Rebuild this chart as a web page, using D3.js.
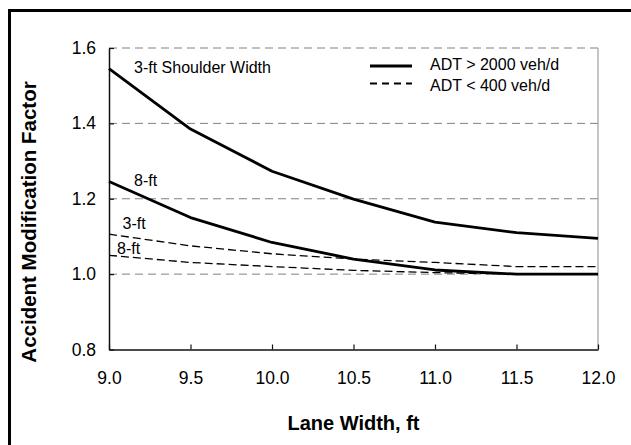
<!DOCTYPE html>
<html>
<head>
<meta charset="utf-8">
<script src="https://cdn.jsdelivr.net/npm/d3@7"></script>
<style>
  body { margin: 0; background: #fff; }
  svg text { font-family: "Liberation Sans", Arial, sans-serif; fill: #000; }
</style>
</head>
<body>
<svg></svg>
<script>
const width = 631;
const height = 445;

// lane widths (ft)
const laneWidths = [9.0, 9.5, 10.0, 10.5, 11.0, 11.5, 12.0];
// AMF, ADT > 2000 veh/d
const high3ft = [1.545, 1.385, 1.273, 1.199, 1.138, 1.110, 1.095];
const high8ft = [1.246, 1.150, 1.084, 1.040, 1.011, 1.000, 1.000];
// AMF, ADT < 400 veh/d
const low3ft = [1.106, 1.075, 1.054, 1.040, 1.031, 1.020, 1.020];
const low8ft = [1.050, 1.031, 1.020, 1.010, 1.004, 1.000, 1.000];

const xTicks = [9.0, 9.5, 10.0, 10.5, 11.0, 11.5, 12.0];
const yTicks = [0.8, 1.0, 1.2, 1.4, 1.6];
const gridValues = [1.0, 1.2, 1.4, 1.6];

const series = [
    {name: 'high3', values: high3ft, dashed: false},
    {name: 'high8', values: high8ft, dashed: false},
    {name: 'low3', values: low3ft, dashed: true},
    {name: 'low8', values: low8ft, dashed: true}
];

const margin = {top: 48, right: 33, bottom: 95.5, left: 109};

const svg = d3.select('svg')
    .attr('width', width).attr('height', height);

// outer frame (left and top visible, rest runs off the picture)
svg.append('rect')
    .attr('x', 9.5).attr('y', 10.5)
    .attr('width', width + 20).attr('height', height + 20)
    .attr('fill', 'none')
    .attr('stroke', '#000')
    .attr('stroke-width', 3);

const x = d3.scaleLinear()
    .domain([9, 12])
    .range([margin.left, width - margin.right]);

const y = d3.scaleLinear()
    .domain([0.8, 1.6])
    .range([height - margin.bottom, margin.top]);

// gridlines
svg.append('g')
    .selectAll('line')
    .data(gridValues)
    .enter().append('line')
    .attr('x1', x(9)).attr('x2', x(12))
    .attr('y1', d => y(d)).attr('y2', d => y(d))
    .attr('stroke', '#808080')
    .attr('stroke-width', 1)
    .attr('stroke-dasharray', '8,5');

// right border
svg.append('line')
    .attr('x1', x(12)).attr('x2', x(12))
    .attr('y1', y(1.6)).attr('y2', y(0.8))
    .attr('stroke', '#a0a0a0')
    .attr('stroke-width', 1.2);

// axes
const xAxis = d3.axisBottom(x)
    .tickValues(xTicks)
    .tickFormat(d3.format('.1f'))
    .tickSizeInner(-5)
    .tickSizeOuter(0)
    .tickPadding(22);

const yAxis = d3.axisLeft(y)
    .tickValues(yTicks)
    .tickFormat(d3.format('.1f'))
    .tickSizeInner(-5)
    .tickSizeOuter(0)
    .tickPadding(13);

const gx = svg.append('g')
    .attr('transform', `translate(0,${y(0.8)})`)
    .call(xAxis);

const gy = svg.append('g')
    .attr('transform', `translate(${x(9)},0)`)
    .call(yAxis);

[gx, gy].forEach(g => {
    g.select('.domain').attr('stroke', '#111').attr('stroke-width', 1.5);
    g.selectAll('.tick line').attr('stroke', '#111').attr('stroke-width', 1.2);
    g.selectAll('.tick text')
        .style('font-family', '"Liberation Sans", Arial, sans-serif')
        .style('font-size', '17.5px')
        .attr('fill', '#000');
});

// series lines
const line = d3.line()
    .x((d, i) => x(laneWidths[i]))
    .y(d => y(d));

svg.append('g')
    .selectAll('path')
    .data(series)
    .enter().append('path')
    .attr('d', d => line(d.values))
    .attr('fill', 'none')
    .attr('stroke', '#000')
    .attr('stroke-width', d => d.dashed ? 1.3 : 2.8)
    .attr('stroke-dasharray', d => d.dashed ? '8,4' : null)
    .attr('stroke-linejoin', 'round');

// curve labels
const labels = [
    {text: '3-ft Shoulder Width', lx: 134, ly: 67},
    {text: '8-ft', lx: 134, ly: 180},
    {text: '3-ft', lx: 122.5, ly: 223.5},
    {text: '8-ft', lx: 117, ly: 248}
];

svg.append('g')
    .selectAll('text')
    .data(labels)
    .enter().append('text')
    .attr('x', d => d.lx)
    .attr('y', d => d.ly)
    .attr('dy', '0.36em')
    .style('font-size', '16px')
    .text(d => d.text);

// legend
const legend = svg.append('g');
const legendItems = [
    {label: 'ADT > 2000 veh/d', dashed: false, ly: 66, ty: 64.5},
    {label: 'ADT < 400 veh/d', dashed: true, ly: 83.5, ty: 85.5}
];

legend.selectAll('line')
    .data(legendItems)
    .enter().append('line')
    .attr('x1', 370).attr('x2', 412)
    .attr('y1', d => d.ly).attr('y2', d => d.ly)
    .attr('stroke', '#000')
    .attr('stroke-width', d => d.dashed ? 2.2 : 2.8)
    .attr('stroke-dasharray', d => d.dashed ? '7,5' : null);

legend.selectAll('text')
    .data(legendItems)
    .enter().append('text')
    .attr('x', 430)
    .attr('y', d => d.ty)
    .attr('dy', '0.36em')
    .style('font-size', '16px')
    .text(d => d.label);

// axis titles
svg.append('text')
    .attr('x', x(10.5))
    .attr('y', 423)
    .attr('dy', '0.36em')
    .attr('text-anchor', 'middle')
    .style('font-size', '20px')
    .style('font-weight', 'bold')
    .text('Lane Width, ft');

svg.append('text')
    .attr('transform', 'translate(29,222) rotate(-90)')
    .attr('dy', '0.36em')
    .attr('text-anchor', 'middle')
    .style('font-size', '20.5px')
    .style('font-weight', 'bold')
    .text('Accident Modification Factor');
</script>
</body>
</html>
